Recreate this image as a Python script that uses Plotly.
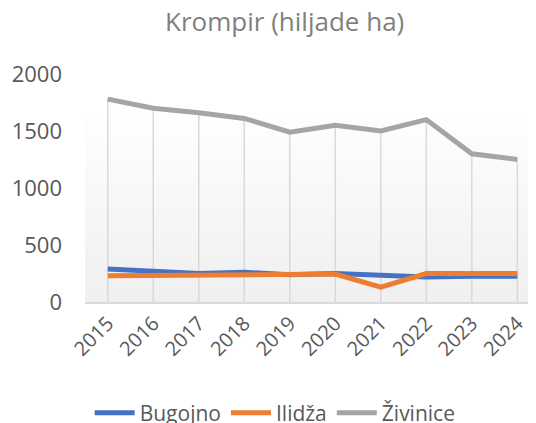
import plotly.graph_objects as go

years = ["2015", "2016", "2017", "2018", "2019", "2020", "2021", "2022", "2023", "2024"]
bugojno = [290, 270, 250, 260, 240, 250, 240, 220, 225, 225]
ilidza = [230, 232, 232, 233, 235, 245, 130, 250, 250, 250]
zivinice = [1780, 1700, 1660, 1610, 1490, 1550, 1500, 1600, 1300, 1250]
series_names = ["Bugojno", "Ilidža", "Živinice"]
colors = ["#4472C4", "#ED7D31", "#A5A5A5"]
yticks = [0, 500, 1000, 1500, 2000]

FONT = "Open Sans"
fig = go.Figure()

# drop lines from the highest point down to the axis
dx, dy = [], []
for i, yr in enumerate(years):
    top = max(bugojno[i], ilidza[i], zivinice[i])
    dx += [yr, yr, None]
    dy += [0, top, None]
fig.add_trace(go.Scatter(x=dx, y=dy, mode="lines", line=dict(color="#D9D9D9", width=1.5),
                         showlegend=False, hoverinfo="skip"))

for name, vals, c in zip(series_names, [bugojno, ilidza, zivinice], colors):
    fig.add_trace(go.Scatter(x=years, y=vals, mode="lines", name=name,
                             line=dict(color=c, width=5)))

# subtle vertical gradient background in the plot area
n = 24
shapes = []
for k in range(n):
    y0 = k / n
    y1 = (k + 1) / n
    g = int(240 + 15 * (k / (n - 1)))
    shapes.append(dict(type="rect", xref="paper", yref="paper", x0=0, x1=1,
                       y0=y0 * 0.87, y1=y1 * 0.87, fillcolor=f"rgb({g},{g},{g})",
                       line=dict(width=0), layer="below"))

fig.update_layout(
    width=528, height=415,
    margin=dict(l=77, r=0, t=66, b=121, autoexpand=False),
    paper_bgcolor="white", plot_bgcolor="rgba(0,0,0,0)",
    shapes=shapes,
    title=dict(text="Krompir (hiljade ha)", x=0.524, xanchor="center", y=0.966, yanchor="middle",
               xref="container", yref="container",
               font=dict(family=FONT, size=26, color="#7F7F7F")),
    font=dict(family=FONT, color="#595959"),
    showlegend=True,
    legend=dict(orientation="h", x=0.506, xanchor="center", y=0.024, yanchor="middle",
                xref="container", yref="container",
                font=dict(family=FONT, size=21, color="#595959"),
                itemwidth=40, tracegroupgap=0, bgcolor="rgba(0,0,0,0)"),
    xaxis=dict(type="category", categoryorder="array", categoryarray=years,
               range=[-0.5, 9.41], showgrid=False, zeroline=False, automargin=False,
               showline=True, linecolor="#D9D9D9", linewidth=1.5,
               tickangle=-45, tickfont=dict(family=FONT, size=20, color="#595959"),
               ticks=""),
    yaxis=dict(range=[0, 2000], tickvals=yticks, showgrid=False, zeroline=False,
               automargin=False,
               showline=False, ticks="", ticklabelstandoff=22,
               tickfont=dict(family=FONT, size=22, color="#595959")),
)

fig.write_html("out.html")
